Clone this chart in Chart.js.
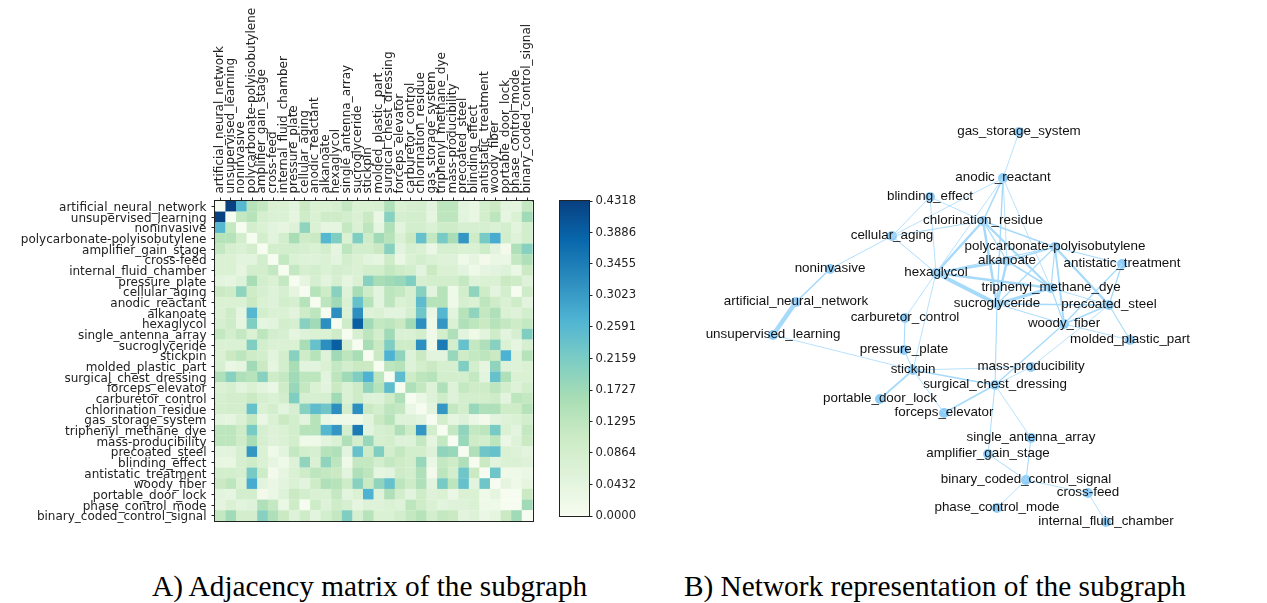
<!DOCTYPE html>
<html><head><meta charset="utf-8">
<script src="https://cdn.jsdelivr.net/npm/chart.js@4"></script>
<style>
html,body{margin:0;padding:0;background:#fff;width:1267px;height:603px;overflow:hidden}
.box{position:absolute;filter:blur(.45px)}
.cap{position:absolute;top:570px;font:29.3px "Liberation Serif",serif;color:#000;white-space:nowrap}
</style></head><body>
<div class="box" style="left:0;top:0;width:545px;height:535px"><canvas id="m"></canvas></div>
<div class="box" style="left:550px;top:190px;width:110px;height:345px"><canvas id="c"></canvas></div>
<div class="box" style="left:690px;top:110px;width:520px;height:430px"><canvas id="n"></canvas></div>
<div class="cap" style="left:152px">A) Adjacency matrix of the subgraph</div>
<div class="cap" style="left:684px">B) Network representation of the subgraph</div>
<script>
const names=["artificial_neural_network","unsupervised_learning","noninvasive","polycarbonate-polyisobutylene","amplifier_gain_stage","cross-feed","internal_fluid_chamber","pressure_plate","cellular_aging","anodic_reactant","alkanoate","hexaglycol","single_antenna_array","sucroglyceride","stickpin","molded_plastic_part","surgical_chest_dressing","forceps_elevator","carburetor_control","chlorination_residue","gas_storage_system","triphenyl_methane_dye","mass-producibility","precoated_steel","blinding_effect","antistatic_treatment","woody_fiber","portable_door_lock","phase_control_mode","binary_coded_control_signal"];
// upper triangle of the adjacency matrix
const upperRows=[
[.4318,.26,.14,.12,.07,.07,.05,.11,.07,.07,.08,.12,.07,.07,.075,.15,.07,.08,.085,.05,.13,.13,.05,.035,.09,.11,.05,.045,.12],
[.12,.14,.08,.07,.07,.04,.10,.07,.10,.10,.09,.07,.11,.03,.20,.08,.09,.09,.04,.13,.13,.05,.035,.09,.13,.04,.07,.17],
[.09,.07,.05,.04,.06,.19,.07,.04,.04,.12,.07,.13,.04,.15,.05,.09,.09,.07,.10,.10,.08,.08,.08,.07,.09,.05,.09],
[.09,.05,.09,.16,.10,.11,.26,.21,.07,.21,.10,.17,.14,.07,.11,.24,.12,.22,.16,.31,.10,.22,.28,.09,.06,.09],
[.09,.09,.09,.08,.07,.09,.04,.13,.09,.09,.11,.20,.05,.08,.07,.03,.08,.08,.07,.07,.10,.05,.01,.15,.20],
[.12,.07,.06,.06,.07,.05,.09,.07,.05,.04,.10,.03,.07,.09,.07,.06,.06,.02,.04,.01,.03,.03,.12,.15],
[.12,.08,.09,.07,.09,.08,.07,.09,.09,.12,.10,.09,.05,.11,.07,.07,.05,.02,.04,.05,.06,.03,.11],
[.04,.08,.05,.08,.04,.07,.20,.16,.17,.18,.21,.08,.09,.09,.09,.12,.06,.07,.07,.11,.10,.06],
[.14,.10,.20,.06,.16,.10,.05,.13,.12,.08,.20,.05,.14,.02,.09,.19,.10,.05,.09,.00,.10],
[.13,.17,.07,.24,.14,.05,.13,.07,.08,.25,.14,.14,.02,.08,.07,.13,.10,.07,.10,.05],
[.32,.07,.32,.06,.07,.05,.05,.08,.23,.03,.26,.05,.14,.19,.12,.15,.07,.06,.09],
[.10,.39,.17,.12,.13,.11,.17,.32,.02,.31,.07,.15,.13,.11,.14,.12,.10,.12],
[.08,.13,.09,.17,.07,.07,.09,.02,.09,.15,.05,.02,.05,.10,.05,.08,.21],
[.16,.11,.21,.10,.10,.32,.02,.35,.09,.24,.12,.15,.20,.07,.04,.08],
[.11,.27,.19,.06,.11,.05,.05,.18,.10,.12,.13,.11,.27,.06,.14],
[.13,.14,.06,.09,.11,.08,.08,.21,.09,.04,.19,.06,.06,.07],
[.25,.10,.13,.14,.09,.09,.09,.12,.05,.24,.15,.07,.07],
[.15,.12,.06,.15,.06,.12,.10,.10,.13,.09,.06,.09],
[.03,.06,.10,.06,.09,.09,.09,.10,.05,.13,.12],
[.05,.31,.12,.09,.18,.15,.15,.10,.10,.14],
[.09,.04,.06,.03,.01,.05,.06,.07,.09],
[.12,.19,.12,.13,.22,.07,.05,.12],
[.18,.10,.09,.13,.03,.06,.11],
[.15,.23,.24,.07,.06,.05],
[.11,.05,.07,.07,.06],
[.23,.02,.02,.03],
[.04,.02,.04],
[.00,.11],
[.17]];
const colorbarTicks=[0,.0432,.0864,.1295,.1727,.2159,.2591,.3023,.3455,.3886,.4318];
const vmax=.4318;
// network layout, in layout units, per node name order
const nodeX=[106,83,140,365,298,398,416,214,202,313,317,246,341,307,223,440,305,254,215,293,329,361,341,419,240,432,374,190,307,336];
const nodeY=[192,225,159,137,344,383,412,240,126,68,151,163,328,194,260,230,275,303,208,111,22,178,257,195,87,154,214,289,398,370];
const edges=[["unsupervised_learning","artificial_neural_network"],["artificial_neural_network","noninvasive"],["noninvasive","cellular_aging"],["unsupervised_learning","stickpin"],["cellular_aging","blinding_effect"],["cellular_aging","chlorination_residue"],["cellular_aging","hexaglycol"],["cellular_aging","anodic_reactant"],["blinding_effect","chlorination_residue"],["blinding_effect","hexaglycol"],["gas_storage_system","anodic_reactant"],["anodic_reactant","hexaglycol"],["anodic_reactant","chlorination_residue"],["anodic_reactant","sucroglyceride"],["anodic_reactant","alkanoate"],["anodic_reactant","triphenyl_methane_dye"],["polycarbonate-polyisobutylene","alkanoate"],["polycarbonate-polyisobutylene","hexaglycol"],["polycarbonate-polyisobutylene","sucroglyceride"],["polycarbonate-polyisobutylene","chlorination_residue"],["polycarbonate-polyisobutylene","triphenyl_methane_dye"],["polycarbonate-polyisobutylene","precoated_steel"],["polycarbonate-polyisobutylene","woody_fiber"],["polycarbonate-polyisobutylene","antistatic_treatment"],["alkanoate","hexaglycol"],["alkanoate","sucroglyceride"],["alkanoate","chlorination_residue"],["alkanoate","triphenyl_methane_dye"],["hexaglycol","sucroglyceride"],["hexaglycol","chlorination_residue"],["hexaglycol","triphenyl_methane_dye"],["sucroglyceride","chlorination_residue"],["sucroglyceride","triphenyl_methane_dye"],["sucroglyceride","precoated_steel"],["sucroglyceride","woody_fiber"],["chlorination_residue","triphenyl_methane_dye"],["precoated_steel","triphenyl_methane_dye"],["precoated_steel","woody_fiber"],["precoated_steel","molded_plastic_part"],["precoated_steel","antistatic_treatment"],["woody_fiber","antistatic_treatment"],["woody_fiber","molded_plastic_part"],["surgical_chest_dressing","woody_fiber"],["precoated_steel","mass-producibility"],["woody_fiber","triphenyl_methane_dye"],["hexaglycol","carburetor_control"],["carburetor_control","pressure_plate"],["hexaglycol","stickpin"],["stickpin","pressure_plate"],["stickpin","surgical_chest_dressing"],["stickpin","forceps_elevator"],["stickpin","portable_door_lock"],["stickpin","mass-producibility"],["surgical_chest_dressing","forceps_elevator"],["surgical_chest_dressing","single_antenna_array"],["surgical_chest_dressing","amplifier_gain_stage"],["surgical_chest_dressing","sucroglyceride"],["surgical_chest_dressing","mass-producibility"],["amplifier_gain_stage","binary_coded_control_signal"],["single_antenna_array","binary_coded_control_signal"],["binary_coded_control_signal","phase_control_mode"],["binary_coded_control_signal","cross-feed"],["cross-feed","internal_fluid_chamber"]];

const gnbu=[[247,252,240],[224,243,219],[204,235,197],[168,221,181],[123,204,196],[78,179,211],[43,140,190],[8,104,172],[8,64,129]];
function cmap(v){const t=Math.min(1,v/vmax)*8,i=Math.min(7,Math.floor(t)),f=t-i,a=gnbu[i],b=gnbu[i+1];
 return `rgb(${a.map((c,k)=>Math.round(c+(b[k]-c)*f)).join(",")})`;}
const N=names.length;
const matrix=names.map(()=>new Array(N).fill(0));
upperRows.forEach((row,r)=>row.forEach((v,k)=>{matrix[r][r+1+k]=v;matrix[r+1+k][r]=v;}));
const cells=[],cellColors=[];
for(let r=0;r<N;r++)for(let c=0;c<N;c++){cells.push({x:names[c],y:names[r]});cellColors.push(cmap(matrix[r][c]));}

const frame={id:"frame",afterDraw(ch){const a=ch.chartArea,x=ch.ctx;x.save();x.strokeStyle="#222";x.lineWidth=1;x.strokeRect(Math.round(a.left)-.5,Math.round(a.top)-.5,Math.round(a.width)+1,Math.round(a.height)+1);x.restore();}};
const axisFont={family:"DejaVu Sans",size:12};
Chart.defaults.animation=false;Chart.defaults.responsive=true;Chart.defaults.maintainAspectRatio=false;
Chart.defaults.plugins.legend.display=false;Chart.defaults.plugins.tooltip.enabled=false;

new Chart(document.getElementById("m"),{type:"scatter",plugins:[frame],
 data:{datasets:[{data:cells,pointStyle:"rect",pointBackgroundColor:cellColors,pointBorderWidth:0,
  pointRadius:c=>{const a=c.chart.chartArea;return a?(a.width/N+.3)/Math.SQRT2:7;}}]},
 options:{layout:{autoPadding:false,padding:{right:12.5,bottom:14}},clip:false,
  scales:{
   x:{type:"category",labels:names,position:"top",offset:true,
    grid:{drawOnChartArea:false,drawTicks:true,tickLength:3.5,color:"#222",offset:false},border:{color:"#222"},
    ticks:{autoSkip:false,minRotation:90,maxRotation:90,padding:4,labelOffset:14,color:"#222",font:axisFont},
    afterFit(s){s.height=201;}},
   y:{type:"category",labels:names,reverse:false,offset:true,
    grid:{drawOnChartArea:false,drawTicks:true,tickLength:3.5,color:"#222",offset:false},border:{color:"#222"},
    ticks:{autoSkip:false,padding:5,labelOffset:1.5,color:"#222",font:axisFont},
    afterFit(s){s.width=215;}}}}});

new Chart(document.getElementById("c"),{type:"bar",plugins:[frame],
 data:{labels:["v"],datasets:[{data:[[0,vmax]],barPercentage:1,categoryPercentage:1,
  backgroundColor(c){const a=c.chart.chartArea;if(!a)return "#fff";const g=c.chart.ctx.createLinearGradient(0,a.bottom,0,a.top);gnbu.forEach((s,i)=>g.addColorStop(i/8,`rgb(${s.join(",")})`));return g;}}]},
 options:{layout:{autoPadding:false,padding:{left:10,top:11,bottom:19}},
  scales:{x:{display:false},
   y:{position:"right",min:0,max:vmax,afterBuildTicks(s){s.ticks=colorbarTicks.map(value=>({value}));},
    grid:{drawOnChartArea:false,tickLength:3.5,color:"#222"},border:{color:"#222"},
    ticks:{padding:3,color:"#222",font:{family:"DejaVu Sans",size:11.6},callback:v=>v.toFixed(4)},
    afterFit(s){s.width=71;}}}}});

const nodes=names.map((_,i)=>({x:nodeX[i],y:nodeY[i]}));
const idx=n=>names.indexOf(n);
const edgeSets=edges.map(([a,b])=>{const w=matrix[idx(a)][idx(b)];
 return {data:[nodes[idx(a)],nodes[idx(b)]],showLine:true,pointRadius:0,borderColor:"#a6dafb",borderWidth:Math.max(.8,w*w*24)};});
const labels={id:"labels",afterDatasetsDraw(ch){const x=ch.ctx,sx=ch.scales.x,sy=ch.scales.y;x.save();x.font='13.4px "Liberation Sans"';x.fillStyle="#111";x.textAlign="center";x.textBaseline="middle";
 names.forEach((t,i)=>x.fillText(t,sx.getPixelForValue(nodeX[i]),sy.getPixelForValue(nodeY[i])-.3));x.restore();}};
new Chart(document.getElementById("n"),{type:"scatter",plugins:[labels],
 data:{datasets:[...edgeSets,{data:nodes,pointRadius:5,pointBackgroundColor:"#8fcdf9",pointBorderWidth:0}]},
 options:{layout:{autoPadding:false,padding:0},scales:{x:{display:false,min:0,max:520},y:{display:false,min:0,max:430,reverse:true}}}});
</script></body></html>
